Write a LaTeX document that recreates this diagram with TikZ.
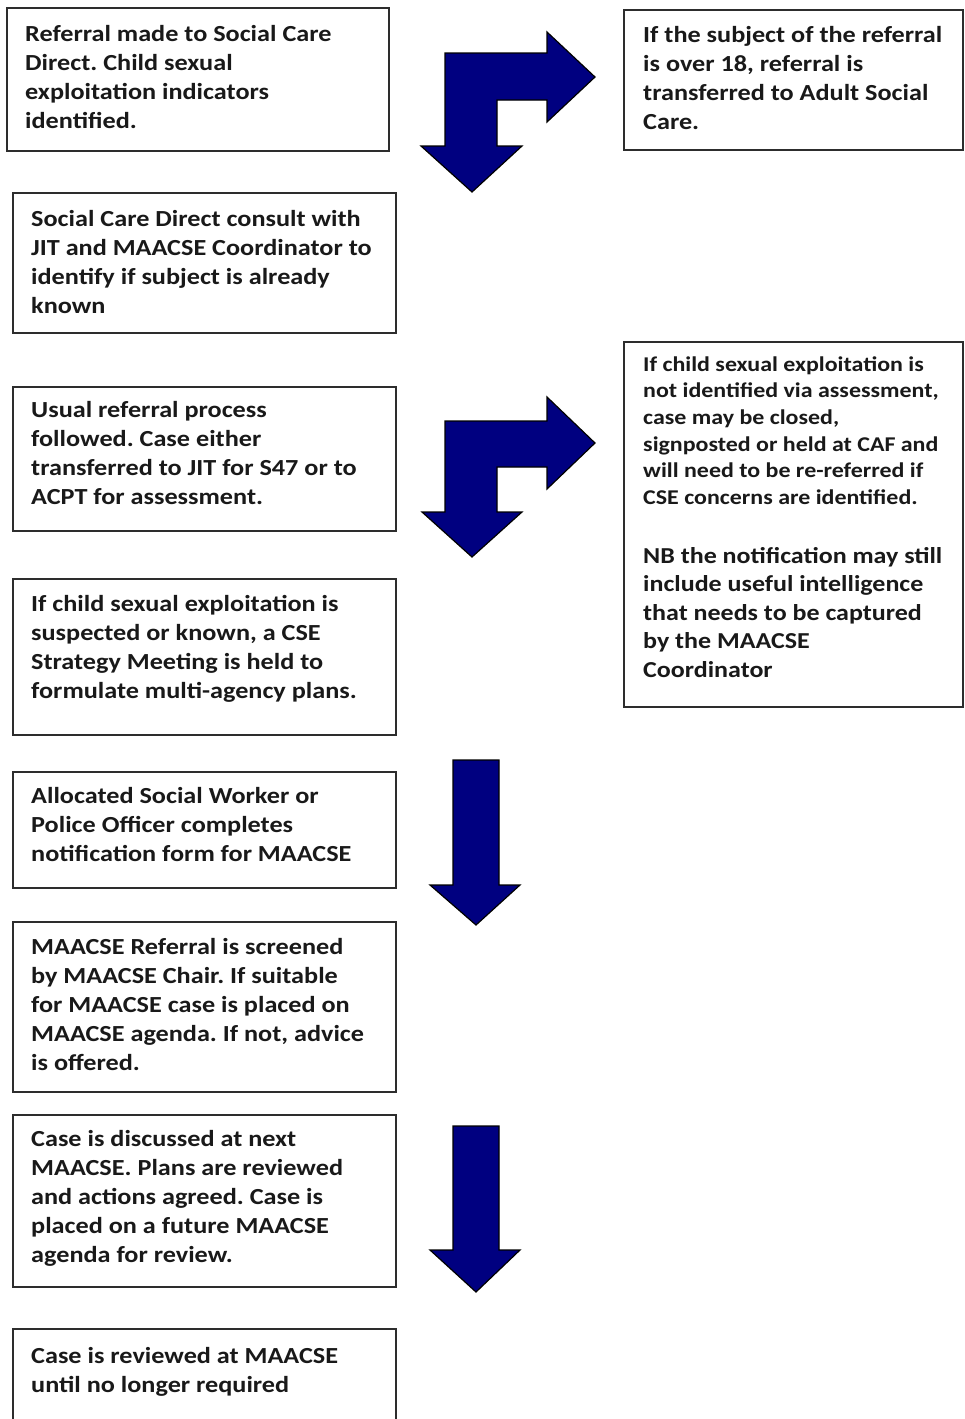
\documentclass[tikz,border=0pt]{standalone}
\usepackage{fontspec}
\setmainfont{Carlito}[FakeStretch=1.14]
\frenchspacing
\definecolor{arrowblue}{RGB}{0,0,128}
\definecolor{boxline}{RGB}{45,45,45}
\begin{document}
\begin{tikzpicture}[x=1pt,y=-1pt,
  box/.style={draw=boxline, line width=1.6pt, anchor=north west, inner sep=0pt, outer sep=0pt},
  txt/.style={anchor=north west, inner sep=0pt, align=left, text=black!90,
              font=\fontsize{23}{29}\selectfont\bfseries},
  smalltxt/.style={txt, font=\fontsize{21}{26.6}\selectfont\bfseries},
  notetxt/.style={txt, font=\fontsize{22.8}{28.5}\selectfont\bfseries},
  blockarrow/.style={fill=arrowblue, draw=black, line width=1.2pt, line join=miter}]
\clip (0,0) rectangle (964,1419);
\fill[white] (0,0) rectangle (964,1419);

% ---- boxes ----
\node[box, minimum width=382, minimum height=143] (b1) at (7,8) {};
\node[box, minimum width=339, minimum height=140] (b2) at (624,10) {};
\node[box, minimum width=383, minimum height=140] (b3) at (13,193) {};
\node[box, minimum width=383, minimum height=144] (b4) at (13,387) {};
\node[box, minimum width=339, minimum height=365] (b5) at (624,342) {};
\node[box, minimum width=383, minimum height=156] (b6) at (13,579) {};
\node[box, minimum width=383, minimum height=116] (b7) at (13,772) {};
\node[box, minimum width=383, minimum height=170] (b8) at (13,922) {};
\node[box, minimum width=383, minimum height=172] (b9) at (13,1115) {};
\node[box, minimum width=383, minimum height=120] (b10) at (13,1329) {};

% ---- texts (first baseline = top + 20.3) ----
\node[txt] (t1) at (25,20.7) {\strut Referral made to Social Care\\Direct. Child sexual\\exploitation indicators\\identified.};
\node[txt] (t2) at (643,21.7) {\strut If the subject of the referral\\is over 18, referral is\\transferred to Adult Social\\Care.};
\node[txt] (t3) at (31,205.7) {\strut Social Care Direct consult with\\JIT and MAACSE Coordinator to\\identify if subject is already\\known};
\node[txt] (t4) at (31,396.7) {\strut Usual referral process\\followed. Case either\\transferred to JIT for S47 or to\\ACPT for assessment.};
\node[smalltxt] (t5) at (643,352.4) {\strut If child sexual exploitation is\\not identified via assessment,\\case may be closed,\\signposted or held at CAF and\\will need to be re-referred if\\CSE concerns are identified.};
\node[notetxt] (t5b) at (643,543.1) {\strut NB the notification may still\\include useful intelligence\\that needs to be captured\\by the MAACSE\\Coordinator};
\node[txt] (t6) at (31,590.7) {\strut If child sexual exploitation is\\suspected or known, a CSE\\Strategy Meeting is held to\\formulate multi-agency plans.};
\node[txt] (t7) at (31,782.7) {\strut Allocated Social Worker or\\Police Officer completes\\notification form for MAACSE};
\node[txt] (t8) at (31,933.7) {\strut MAACSE Referral is screened\\by MAACSE Chair. If suitable\\for MAACSE case is placed on\\MAACSE agenda. If not, advice\\is offered.};
\node[txt] (t9) at (31,1125.7) {\strut Case is discussed at next\\MAACSE. Plans are reviewed\\and actions agreed. Case is\\placed on a future MAACSE\\agenda for review.};
\node[txt] (t10) at (31,1342.7) {\strut Case is reviewed at MAACSE\\until no longer required};

% ---- block arrows ----
% split arrows: down and to the right
\draw[blockarrow] (445,53) -- (547,53) -- (547,32) -- (595,77) -- (547,122) -- (547,100)
  -- (497,100) -- (497,146) -- (522,146) -- (472,192) -- (421,146) -- (445,146) -- cycle;
\draw[blockarrow] (445,421) -- (547,421) -- (547,397) -- (595,443) -- (547,489) -- (547,467)
  -- (497,467) -- (497,512) -- (522,512) -- (472,557) -- (422,512) -- (445,512) -- cycle;
% straight down arrows
\draw[blockarrow] (453,760) -- (499,760) -- (499,885) -- (520,885) -- (476,925) -- (430,885)
  -- (453,885) -- cycle;
\draw[blockarrow] (453,1126) -- (499,1126) -- (499,1250) -- (520,1250) -- (476,1292) -- (430,1250)
  -- (453,1250) -- cycle;
\end{tikzpicture}
\end{document}
